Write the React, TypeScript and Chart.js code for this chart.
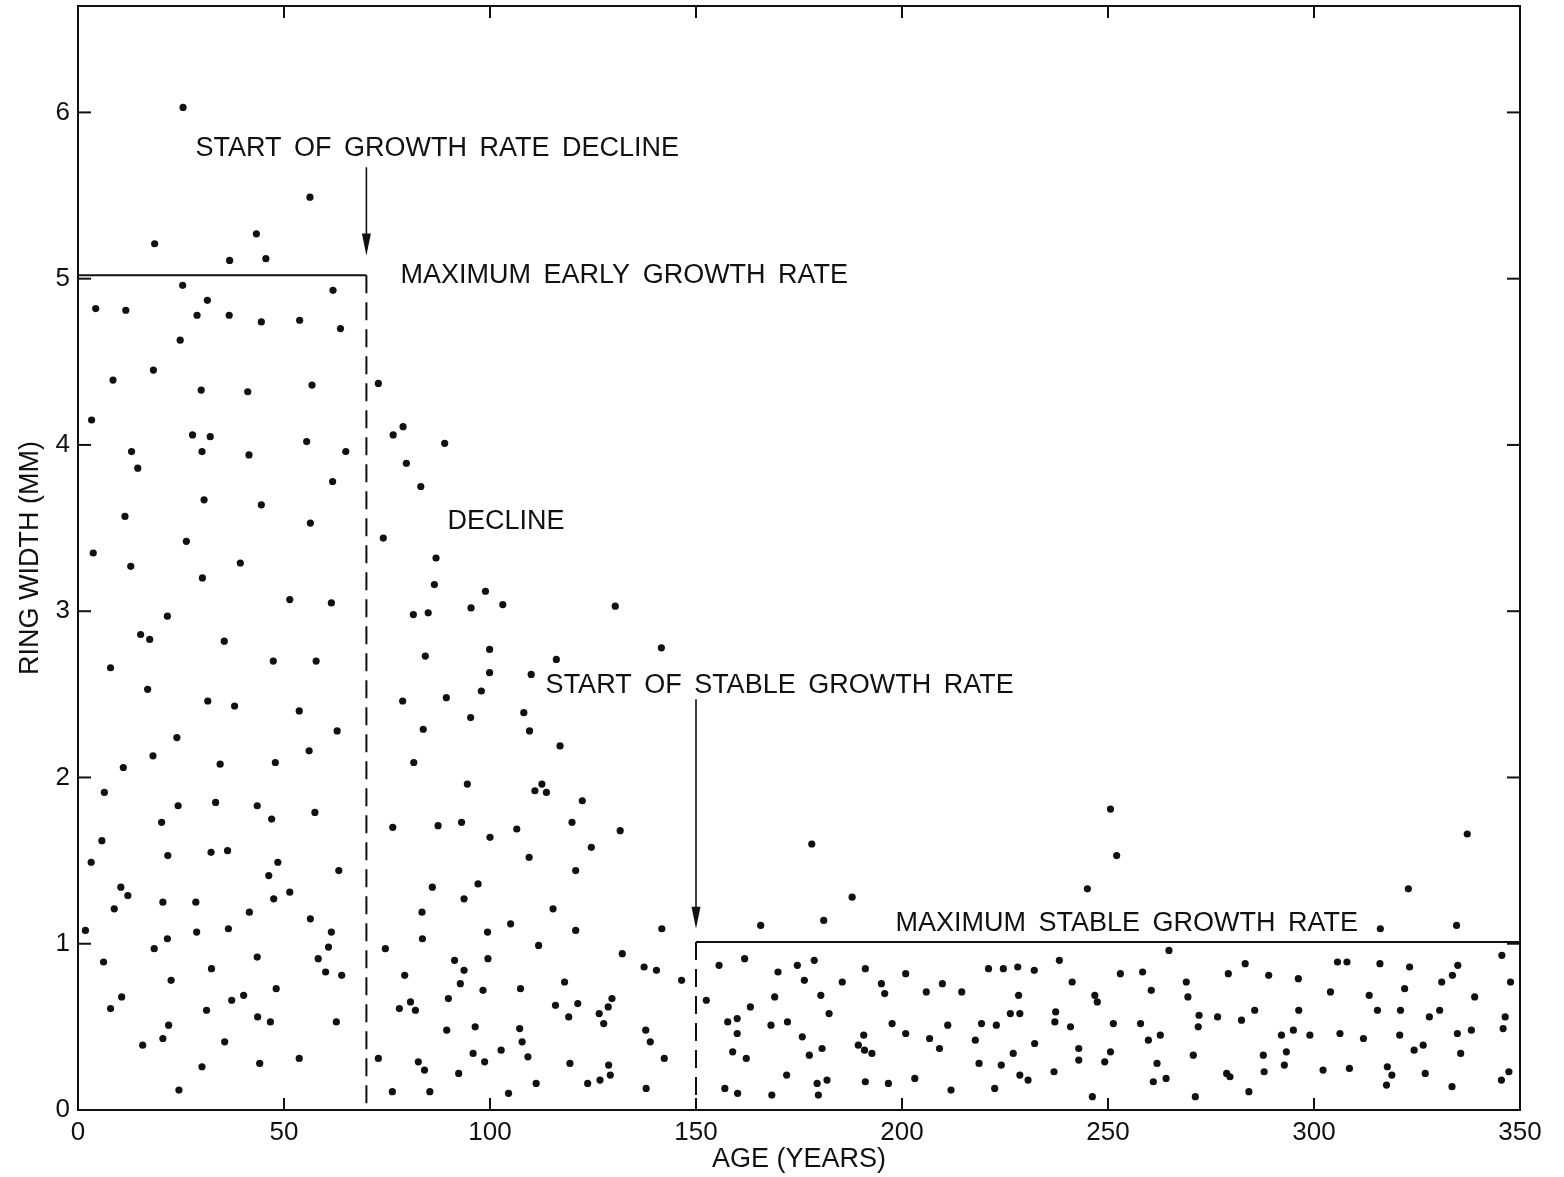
import React, { useEffect, useRef } from 'react';
import { Chart, registerables } from 'chart.js';

Chart.register(...registerables);

// ---- Data: ring width (mm) against tree age (years), three growth phases ----
const earlyAges = [25.5,18.6,43.3,36.8,45.6,25.4,4.3,11.6,31.4,28.9,36.7,44.5,53.8,24.8,18.3,8.5,29.9,41.2,3.3,27.8,32.1,13.0,30.1,41.5,14.5,30.6,44.5,11.4,26.3,3.7,12.8,39.4,30.2,51.4,21.7,15.2,17.4,35.5,7.9,47.4,16.9,31.5,38.0,53.7,24.0,18.2,11.0,34.5,47.9,6.4,24.3,33.4,43.5,20.3,47.0,5.8,3.2,21.8,32.3,36.3,48.5,46.3,10.4,12.1,51.4,47.5,8.8,20.6,28.6,41.6,1.8,21.7,28.8,36.5,18.5,6.2,43.5,32.4,22.6,48.1,10.6,7.9,37.3,40.2,31.2,22.0,43.6,46.7,15.7,20.6,35.6,30.1,44.1,53.7,24.5,56.3,61.9,63.7,56.8,55.5,65.0,61.8,56.4,61.5,57.8,62.9,56.1,57.5,63.3,56.4,61.5,60.8,58.3,60.1,64.0,62.7];
const earlyWidths = [6.03,5.21,5.27,5.11,5.12,4.96,4.82,4.81,4.87,4.78,4.78,4.74,4.75,4.63,4.45,4.39,4.33,4.32,4.15,4.06,4.05,3.96,3.96,3.94,3.86,3.67,3.64,3.57,3.42,3.35,3.27,3.29,3.20,3.07,2.97,2.86,2.83,2.82,2.66,2.70,2.53,2.46,2.43,2.40,2.24,2.13,2.06,2.08,2.09,1.91,1.83,1.85,1.83,1.73,1.75,1.62,1.49,1.53,1.55,1.56,1.49,1.41,1.34,1.29,1.31,1.27,1.21,1.25,1.25,1.19,1.08,1.03,1.07,1.09,0.97,0.89,0.92,0.85,0.78,0.73,0.68,0.61,0.66,0.69,0.60,0.51,0.56,0.53,0.39,0.43,0.41,0.26,0.28,0.31,0.12,5.49,4.93,4.70,4.36,4.02,3.96,3.78,3.53,3.05,2.70,2.28,2.16,1.79,1.44,1.15,1.07,0.98,0.91,0.83,0.81,0.53];

const declineAges = [72.9,78.9,76.5,89.0,79.7,83.2,74.1,86.9,86.5,98.9,95.4,103.1,81.4,85.0,84.3,99.9,99.9,78.8,89.4,97.9,83.8,95.3,108.2,81.5,94.5,76.4,87.4,93.1,100.0,106.5,86.0,97.1,93.7,83.5,74.6,83.6,99.4,105.0,79.3,91.4,93.7,99.5,92.8,98.3,107.4,89.9,78.0,80.7,81.9,89.5,96.4,107.2,107.8,72.9,82.6,84.1,92.4,95.9,98.7,102.7,76.3,85.4,104.5,130.4,141.6,116.1,110.0,109.6,117.0,110.9,112.6,113.7,122.4,119.9,131.6,124.6,109.5,120.8,115.3,120.8,141.7,111.8,132.1,137.4,140.4,146.5,118.1,115.9,121.3,119.1,129.6,128.7,126.5,127.6,137.8,138.9,109.2,119.4,142.3,128.8,111.2,123.7,126.7,129.2,137.9];
const declineWidths = [4.37,4.11,4.06,4.01,3.89,3.75,3.44,3.32,3.16,3.12,3.02,3.04,2.98,2.99,2.73,2.77,2.63,2.46,2.48,2.52,2.29,2.36,2.39,2.09,1.96,1.70,1.71,1.73,1.64,1.69,1.34,1.36,1.27,1.19,0.97,1.03,1.07,1.12,0.81,0.90,0.84,0.91,0.76,0.72,0.73,0.67,0.61,0.65,0.60,0.48,0.50,0.49,0.41,0.31,0.29,0.24,0.22,0.34,0.29,0.36,0.11,0.11,0.10,3.03,2.78,2.71,2.62,2.28,2.19,1.92,1.96,1.91,1.86,1.73,1.68,1.58,1.52,1.44,1.21,1.08,1.09,0.99,0.94,0.86,0.84,0.78,0.77,0.63,0.64,0.56,0.67,0.62,0.58,0.52,0.48,0.41,0.32,0.28,0.31,0.27,0.16,0.16,0.18,0.21,0.13];

const stableAges = [178.1,187.9,165.7,181.0,155.6,161.8,169.9,174.6,178.7,176.3,185.5,191.1,195.0,195.8,200.9,205.9,209.8,214.5,152.5,169.1,180.3,163.2,182.3,157.7,160.0,160.0,168.2,172.2,175.8,197.6,200.9,211.1,190.7,189.4,190.9,192.7,206.7,209.1,158.9,162.2,177.5,180.6,172.0,157.0,160.1,168.4,179.4,181.8,179.7,191.1,196.7,203.1,211.9,250.6,252.1,245.0,221.0,224.6,228.1,232.1,238.2,241.3,253.0,258.4,264.8,269.0,279.2,283.3,228.3,246.8,247.4,260.5,269.4,226.3,228.6,237.3,237.1,219.3,222.9,240.9,251.3,257.9,272.1,271.9,276.6,282.4,217.8,232.2,259.8,262.7,227.0,242.9,242.9,250.6,249.2,270.7,218.7,224.1,261.9,228.6,230.6,236.9,261.0,264.1,278.8,279.6,222.5,246.2,271.2,284.2,337.2,322.9,316.1,334.6,305.7,308.0,316.0,323.2,334.9,345.6,289.0,296.2,333.6,331.0,347.7,304.0,313.4,322.0,339.0,285.6,296.3,315.4,321.0,328.0,330.5,346.4,292.1,295.0,299.0,306.3,312.0,320.8,334.8,338.2,345.9,287.7,293.3,324.3,326.5,335.6,287.9,292.8,302.2,308.6,317.8,318.9,327.0,347.3,345.5,317.6,333.5];
const stableWidths = [1.60,1.28,1.11,1.14,0.87,0.91,0.83,0.87,0.90,0.78,0.77,0.85,0.76,0.70,0.82,0.71,0.76,0.71,0.66,0.68,0.69,0.62,0.58,0.53,0.55,0.46,0.51,0.53,0.44,0.52,0.46,0.51,0.45,0.39,0.36,0.34,0.43,0.37,0.35,0.31,0.33,0.37,0.21,0.13,0.10,0.09,0.16,0.18,0.09,0.17,0.16,0.19,0.12,1.81,1.53,1.33,0.85,0.85,0.86,0.84,0.90,0.77,0.82,0.83,0.96,0.77,0.82,0.88,0.69,0.69,0.65,0.72,0.68,0.58,0.58,0.59,0.53,0.52,0.51,0.50,0.52,0.52,0.57,0.50,0.56,0.54,0.42,0.40,0.42,0.45,0.34,0.37,0.30,0.35,0.29,0.33,0.28,0.27,0.28,0.21,0.18,0.23,0.17,0.19,0.22,0.20,0.13,0.08,0.08,0.11,1.66,1.33,1.09,1.11,0.89,0.89,0.88,0.86,0.87,0.93,0.81,0.79,0.81,0.77,0.77,0.71,0.69,0.73,0.68,0.60,0.60,0.60,0.60,0.56,0.60,0.56,0.45,0.48,0.45,0.46,0.43,0.45,0.46,0.48,0.49,0.33,0.35,0.36,0.39,0.34,0.23,0.27,0.24,0.25,0.26,0.21,0.22,0.23,0.18,0.15,0.14];

const xTickValues = [0, 50, 100, 150, 200, 250, 300, 350];
const yTickValues = [0, 1, 2, 3, 4, 5, 6];
const ageMax = 350;
const widthMax = 6.64;

// phase boundaries and growth-rate limits
const earlyPhaseEnd = 70;
const earlyMaxRate = 5.02;
const stablePhaseStart = 150;
const stableMaxRate = 1.01;

const noteTexts = [
  'START OF GROWTH RATE DECLINE',
  'MAXIMUM EARLY GROWTH RATE',
  'DECLINE',
  'START OF STABLE GROWTH RATE',
  'MAXIMUM STABLE GROWTH RATE',
];
const noteAges = [28.5, 78.3, 89.7, 113.5, 198.4];
const noteWidths = [5.78, 5.02, 3.54, 2.55, 1.12];

const arrowAges = [70, 150];
const arrowFrom = [5.67, 2.47];
const arrowTo = [5.14, 1.09];

const FONT = '"Liberation Sans", Arial, sans-serif';
const INK = '#111111';

const toPoints = (ages: number[], widths: number[]) => ages.map((a, i) => ({ x: a, y: widths[i] }));

const line = (ctx: CanvasRenderingContext2D, x1: number, y1: number, x2: number, y2: number) => {
  ctx.beginPath();
  ctx.moveTo(x1, y1);
  ctx.lineTo(x2, y2);
  ctx.stroke();
};

const decorations = {
  id: 'decorations',
  afterDatasetsDraw(chart: any) {
    const { ctx, chartArea: a, scales } = chart;
    const x = scales.x;
    const y = scales.y;
    ctx.save();
    ctx.strokeStyle = INK;
    ctx.fillStyle = INK;
    ctx.lineCap = 'butt';

    // frame
    ctx.lineWidth = 2;
    ctx.strokeRect(a.left, a.top, a.right - a.left, a.bottom - a.top);

    // inward ticks on all four sides
    for (const v of xTickValues) {
      const px = x.getPixelForValue(v);
      line(ctx, px, a.bottom, px, a.bottom - 12);
      line(ctx, px, a.top, px, a.top + 12);
    }
    for (const v of yTickValues) {
      const py = y.getPixelForValue(v);
      line(ctx, a.left, py, a.left + 13, py);
      line(ctx, a.right, py, a.right - 13, py);
    }

    // maximum growth rate lines
    ctx.lineWidth = 2;
    line(ctx, x.getPixelForValue(0), y.getPixelForValue(earlyMaxRate), x.getPixelForValue(earlyPhaseEnd), y.getPixelForValue(earlyMaxRate));
    line(ctx, x.getPixelForValue(stablePhaseStart), y.getPixelForValue(stableMaxRate), x.getPixelForValue(ageMax), y.getPixelForValue(stableMaxRate));

    // dashed phase boundaries
    ctx.setLineDash([18, 9]);
    line(ctx, x.getPixelForValue(earlyPhaseEnd), y.getPixelForValue(earlyMaxRate), x.getPixelForValue(earlyPhaseEnd), y.getPixelForValue(0));
    line(ctx, x.getPixelForValue(stablePhaseStart), y.getPixelForValue(stableMaxRate), x.getPixelForValue(stablePhaseStart), y.getPixelForValue(0));
    ctx.setLineDash([]);

    // arrows
    ctx.lineWidth = 1.6;
    arrowAges.forEach((age, i) => {
      const px = x.getPixelForValue(age);
      const y1 = y.getPixelForValue(arrowFrom[i]);
      const y2 = y.getPixelForValue(arrowTo[i]);
      line(ctx, px, y1, px, y2 - 16);
      ctx.beginPath();
      ctx.moveTo(px, y2);
      ctx.lineTo(px - 4.5, y2 - 22);
      ctx.lineTo(px + 4.5, y2 - 22);
      ctx.closePath();
      ctx.fill();
    });

    // annotation texts
    ctx.font = `27px ${FONT}`;
    (ctx as any).wordSpacing = '5px';
    ctx.textAlign = 'left';
    ctx.textBaseline = 'middle';
    noteTexts.forEach((t, i) => {
      ctx.fillText(t, x.getPixelForValue(noteAges[i]), y.getPixelForValue(noteWidths[i]));
    });
    ctx.restore();
  },
};

export default function App() {
  const canvasRef = useRef<HTMLCanvasElement>(null);

  useEffect(() => {
    const pointStyle = {
      type: 'scatter' as const,
      pointRadius: 3.6,
      pointHoverRadius: 3.6,
      pointBackgroundColor: INK,
      pointBorderWidth: 0,
      showLine: false,
    };
    const chart = new Chart(canvasRef.current as HTMLCanvasElement, {
      type: 'scatter',
      data: {
        datasets: [
          { label: 'Early growth', data: toPoints(earlyAges, earlyWidths), ...pointStyle },
          { label: 'Decline', data: toPoints(declineAges, declineWidths), ...pointStyle },
          { label: 'Stable growth', data: toPoints(stableAges, stableWidths), ...pointStyle },
        ],
      },
      options: {
        animation: false,
        responsive: true,
        maintainAspectRatio: false,
        layout: { padding: { left: 0, top: 6, right: 44, bottom: 0 } },
        plugins: { legend: { display: false }, tooltip: { enabled: false } },
        scales: {
          x: {
            type: 'linear',
            min: 0,
            max: ageMax,
            afterBuildTicks: (s: any) => { s.ticks = xTickValues.map((v) => ({ value: v })); },
            afterFit: (s: any) => { s.height = 67; s.paddingLeft = 0; s.paddingRight = 0; },
            ticks: { font: { family: FONT, size: 26 }, color: INK, padding: 7, maxRotation: 0, autoSkip: false },
            grid: { display: false, drawTicks: false },
            border: { display: false },
            title: { display: true, text: 'AGE (YEARS)', color: INK, font: { family: FONT, size: 27 }, padding: { top: 0, bottom: 1 } },
          },
          y: {
            type: 'linear',
            min: 0,
            max: widthMax,
            afterBuildTicks: (s: any) => { s.ticks = yTickValues.map((v) => ({ value: v })); },
            afterFit: (s: any) => { s.width = 78; s.paddingTop = 0; s.paddingBottom = 0; },
            ticks: { font: { family: FONT, size: 26 }, color: INK, padding: 8, autoSkip: false },
            grid: { display: false, drawTicks: false },
            border: { display: false },
            title: { display: true, text: 'RING WIDTH (MM)', color: INK, font: { family: FONT, size: 27 }, padding: { top: 14, bottom: 0 } },
          },
        },
      } as any,
      plugins: [decorations],
    });
    return () => chart.destroy();
  }, []);

  return (
    <div style={{ position: 'absolute', left: 0, top: 0, width: 1564, height: 1177, background: '#ffffff' }}>
      <canvas ref={canvasRef} />
    </div>
  );
}
